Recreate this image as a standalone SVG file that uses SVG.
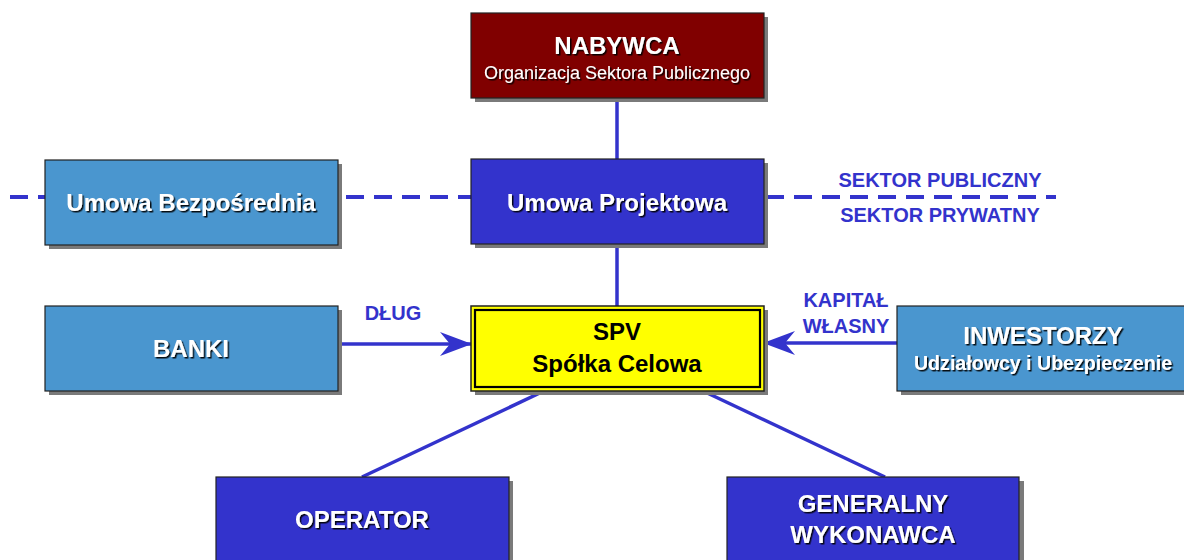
<svg xmlns="http://www.w3.org/2000/svg" width="1184" height="560" viewBox="0 0 1184 560">
<defs>
<style>
.sh{fill:#7a7a7a}
.bx{stroke:#222;stroke-width:1.2}
.lt{fill:#4a96cf}
.dk{fill:#3333cc}
.mr{fill:#800000}
.t{font-family:"Liberation Sans",Arial,sans-serif;font-weight:bold;fill:#fff;text-anchor:middle;filter:url(#ts)}
.s{font-family:"Liberation Sans",Arial,sans-serif;fill:#fff;text-anchor:middle;filter:url(#ts)}
.lb{font-family:"Liberation Sans",Arial,sans-serif;font-weight:bold;fill:#3333cc;text-anchor:middle;font-size:20px}
.ln{stroke:#3333cc;stroke-width:3.5;fill:none}
</style>
<filter id="ts" x="-10%" y="-30%" width="120%" height="160%">
<feDropShadow dx="1.5" dy="1.5" stdDeviation="0.5" flood-color="#000" flood-opacity="0.9"/>
</filter>
<marker id="ah" viewBox="0 0 32 24" refX="31" refY="12" markerWidth="32" markerHeight="24" markerUnits="userSpaceOnUse" orient="auto">
<path d="M32,12 L0,0 L10,12 L0,24 Z" fill="#3333cc"/>
</marker>
</defs>
<line x1="10" y1="197" x2="1056" y2="197" stroke="#3333cc" stroke-width="4" stroke-dasharray="18,10"/>
<g id="connectors">
<line class="ln" x1="617" y1="98" x2="617" y2="159"/>
<line class="ln" x1="617" y1="243" x2="617" y2="306"/>
<line class="ln" x1="338" y1="344" x2="471" y2="344" marker-end="url(#ah)"/>
<line class="ln" x1="897" y1="343" x2="764" y2="343" marker-end="url(#ah)"/>
<line class="ln" x1="544" y1="391" x2="362" y2="477"/>
<line class="ln" x1="703" y1="391" x2="885" y2="477"/>
</g>
<g id="labels">
<text class="lb" x="940" y="187">SEKTOR PUBLICZNY</text>
<text class="lb" x="940" y="222">SEKTOR PRYWATNY</text>
<text class="lb" x="393" y="320">DŁUG</text>
<text class="lb" x="846" y="307">KAPITAŁ</text>
<text class="lb" x="846" y="333">WŁASNY</text>
</g>
<g id="nabywca">
<rect class="sh" x="475" y="17" width="293" height="85"/>
<rect class="bx mr" x="471" y="13" width="293" height="85"/>
<text class="t" x="617" y="54" font-size="24">NABYWCA</text>
<text class="s" x="617" y="79" font-size="18">Organizacja Sektora Publicznego</text>
</g>
<g id="umowa-bezposrednia">
<rect class="sh" x="49" y="164" width="293" height="85"/>
<rect class="bx lt" x="45" y="160" width="293" height="85"/>
<text class="t" x="191" y="211" font-size="24">Umowa Bezpośrednia</text>
</g>
<g id="umowa-projektowa">
<rect class="sh" x="475" y="163" width="293" height="85"/>
<rect class="bx dk" x="471" y="159" width="293" height="85"/>
<text class="t" x="617" y="211" font-size="24">Umowa Projektowa</text>
</g>
<g id="banki">
<rect class="sh" x="49" y="310" width="293" height="85"/>
<rect class="bx lt" x="45" y="306" width="293" height="85"/>
<text class="t" x="191" y="357" font-size="24">BANKI</text>
</g>
<g id="spv">
<rect class="sh" x="475" y="310" width="293" height="85"/>
<rect x="471" y="306" width="293" height="85" fill="#ffff00" stroke="#222" stroke-width="1.5"/>
<rect x="475" y="310" width="285" height="77" fill="none" stroke="#000" stroke-width="2.2"/>
<text x="617" y="340" font-family="Liberation Sans,Arial,sans-serif" font-weight="bold" font-size="24" text-anchor="middle" fill="#000">SPV</text>
<text x="617" y="372" font-family="Liberation Sans,Arial,sans-serif" font-weight="bold" font-size="24" text-anchor="middle" fill="#000">Spółka Celowa</text>
</g>
<g id="inwestorzy">
<rect class="sh" x="901" y="310" width="293" height="85"/>
<rect class="bx lt" x="897" y="306" width="293" height="85"/>
<text class="t" x="1043" y="344" font-size="24">INWESTORZY</text>
<text class="t" x="1043" y="370" font-size="19.6">Udziałowcy i Ubezpieczenie</text>
</g>
<g id="operator">
<rect class="sh" x="220" y="481" width="293" height="85"/>
<rect class="bx dk" x="216" y="477" width="293" height="90"/>
<text class="t" x="362" y="528" font-size="24">OPERATOR</text>
</g>
<g id="generalny-wykonawca">
<rect class="sh" x="731" y="481" width="293" height="85"/>
<rect class="bx dk" x="727" y="477" width="292" height="90"/>
<text class="t" x="873" y="512" font-size="24">GENERALNY</text>
<text class="t" x="873" y="543" font-size="24">WYKONAWCA</text>
</g>
</svg>
